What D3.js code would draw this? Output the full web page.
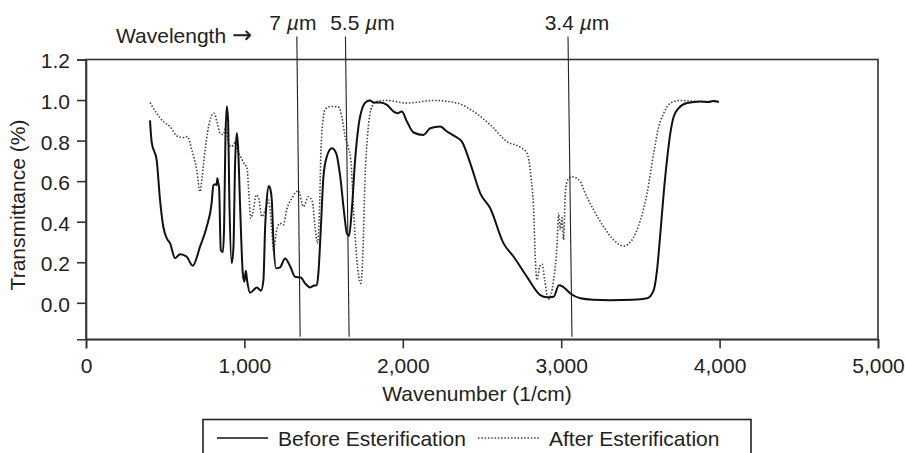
<!DOCTYPE html>
<html><head><meta charset="utf-8">
<script src="https://cdn.jsdelivr.net/npm/d3@7"></script>
<style>
body{margin:0;background:#fff;}
text{font-family:"Liberation Sans",Arial,Helvetica,sans-serif;fill:#222;}
</style></head>
<body><svg id="c" width="905" height="453"></svg>
<script>
// ---- data ----
const xTicks = [0, 1000, 2000, 3000, 4000, 5000];
const yTicks = [0.0, 0.2, 0.4, 0.6, 0.8, 1.0, 1.2];
const seriesNames = ["Before Esterification", "After Esterification"];
const before = [[404,0.90],[415,0.79],[446,0.705],[467,0.51],[488,0.375],[510,0.318],[531,0.293],[562,0.22],[594,0.24],[636,0.227],[674,0.183],[720,0.277],[762,0.375],[793,0.49],[804,0.58],[818,0.585],[825,0.58],[829,0.614],[835,0.59],[840,0.57],[851,0.26],[864,0.25],[872,0.375],[880,0.80],[889,0.97],[897,0.90],[905,0.51],[920,0.195],[931,0.277],[941,0.68],[952,0.837],[960,0.77],[973,0.474],[990,0.145],[1000,0.104],[1009,0.158],[1017,0.11],[1036,0.05],[1057,0.062],[1078,0.076],[1105,0.06],[1120,0.112],[1131,0.375],[1141,0.507],[1154,0.576],[1164,0.56],[1173,0.507],[1183,0.31],[1200,0.17],[1225,0.175],[1257,0.218],[1289,0.18],[1320,0.128],[1356,0.125],[1383,0.096],[1415,0.076],[1440,0.085],[1457,0.087],[1467,0.145],[1483,0.375],[1499,0.622],[1520,0.72],[1552,0.762],[1579,0.738],[1605,0.622],[1630,0.441],[1647,0.343],[1661,0.33],[1678,0.458],[1699,0.705],[1720,0.869],[1748,0.968],[1773,0.993],[1794,0.998],[1815,0.988],[1857,0.988],[1900,0.976],[1942,0.943],[1966,0.935],[1994,0.943],[2026,0.894],[2068,0.84],[2131,0.828],[2173,0.861],[2236,0.869],[2279,0.845],[2342,0.815],[2373,0.795],[2426,0.688],[2489,0.54],[2552,0.466],[2636,0.293],[2700,0.227],[2784,0.128],[2868,0.038],[2910,0.027],[2952,0.03],[2986,0.087],[3010,0.08],[3058,0.046],[3121,0.022],[3200,0.015],[3310,0.013],[3450,0.015],[3542,0.022],[3584,0.063],[3605,0.161],[3626,0.343],[3647,0.54],[3668,0.705],[3689,0.837],[3710,0.918],[3742,0.96],[3795,0.985],[3879,0.993],[3930,0.99],[3960,0.995],[3995,0.99]];
const after = [[404,0.988],[446,0.935],[488,0.894],[531,0.869],[573,0.823],[615,0.815],[640,0.82],[668,0.754],[699,0.655],[720,0.548],[733,0.62],[752,0.754],[783,0.902],[808,0.935],[829,0.886],[846,0.837],[867,0.83],[884,0.87],[899,0.787],[920,0.77],[941,0.79],[956,0.754],[977,0.72],[1004,0.68],[1015,0.672],[1032,0.49],[1040,0.417],[1057,0.458],[1074,0.532],[1089,0.52],[1110,0.425],[1131,0.458],[1152,0.507],[1173,0.359],[1183,0.26],[1204,0.359],[1225,0.392],[1246,0.384],[1267,0.46],[1299,0.515],[1341,0.552],[1373,0.474],[1404,0.523],[1429,0.499],[1446,0.375],[1461,0.293],[1474,0.458],[1485,0.787],[1510,0.955],[1541,0.968],[1594,0.965],[1615,0.918],[1636,0.82],[1657,0.762],[1672,0.705],[1689,0.458],[1710,0.211],[1735,0.096],[1748,0.244],[1762,0.622],[1777,0.82],[1805,0.968],[1836,0.993],[1900,0.998],[2026,0.985],[2194,0.998],[2342,0.985],[2447,0.943],[2552,0.878],[2658,0.795],[2742,0.767],[2784,0.738],[2809,0.622],[2826,0.458],[2837,0.211],[2847,0.112],[2864,0.178],[2879,0.191],[2896,0.112],[2917,0.017],[2935,0.04],[2952,0.112],[2973,0.277],[2984,0.441],[2994,0.36],[3005,0.42],[3015,0.31],[3026,0.54],[3041,0.606],[3068,0.622],[3121,0.598],[3142,0.557],[3205,0.458],[3268,0.375],[3331,0.31],[3394,0.28],[3447,0.31],[3500,0.408],[3542,0.54],[3584,0.738],[3616,0.869],[3647,0.935],[3689,0.985],[3752,0.998],[3879,0.993],[4000,0.993]];
// wavelength marker lines: label number, wavenumber at top and at bottom (lines are slightly slanted)
const markerLabels = ["7", "5.5", "3.4"];
const markerTop = [1331, 1638, 3043];
const markerBottom = [1352, 1661, 3068];

// ---- layout ----
const svg = d3.select("#c");
const L = 86, R = 878, T = 59.5, B = 339.3;
const x = d3.scaleLinear().domain([0, 5000]).range([L, R]);
const y = d3.scaleLinear().domain([-0.18, 1.2]).range([B, T]);
const FS = 21;
const axisCol = "#333";

// frame
svg.append("rect").attr("x", L).attr("y", T).attr("width", R - L).attr("height", B - T)
  .attr("fill", "none").attr("stroke", axisCol).attr("stroke-width", 1.6);

// x axis
const xa = svg.append("g").attr("transform", `translate(0,${B})`)
  .call(d3.axisBottom(x).tickValues(xTicks).tickSize(9).tickPadding(10).tickFormat(d3.format(",")));
xa.select(".domain").attr("stroke", axisCol).attr("stroke-width", 1.6);
xa.selectAll(".tick line").attr("stroke", axisCol).attr("stroke-width", 1.6);
xa.selectAll("text").attr("font-size", FS).attr("fill", "#222");

// y axis
const ya = svg.append("g").attr("transform", `translate(${L},0)`)
  .call(d3.axisLeft(y).tickValues(yTicks).tickSize(9).tickPadding(7).tickFormat(d3.format(".1f")));
ya.select(".domain").attr("stroke", axisCol).attr("stroke-width", 1.6);
ya.selectAll(".tick line").attr("stroke", axisCol).attr("stroke-width", 1.6);
ya.selectAll("text").attr("font-size", FS).attr("dy", "0.4em").attr("fill", "#222");
svg.selectAll(".tick text").attr("font-family", null);
xa.attr("font-family", null); ya.attr("font-family", null);

// axis titles
svg.append("text").attr("x", 477).attr("y", 401).attr("text-anchor", "middle")
  .attr("font-size", FS).text("Wavenumber (1/cm)");
svg.append("text").attr("transform", "translate(25,205) rotate(-90)").attr("text-anchor", "middle")
  .attr("font-size", FS).text("Transmittance (%)");

// curves
const line = d3.line().x(d => x(d[0])).y(d => y(d[1])).curve(d3.curveMonotoneX);
svg.append("path").datum(after).attr("d", line).attr("fill", "none")
  .attr("stroke", "#444").attr("stroke-width", 1.6).attr("stroke-dasharray", "1.5,1.8");
svg.append("path").datum(before).attr("d", line).attr("fill", "none")
  .attr("stroke", "#111").attr("stroke-width", 2);

// wavelength markers
const topV = 1.314, botV = -0.168;
const labelShift = [-4, 17, 9];
markerLabels.forEach((lab, i) => {
  svg.append("line").attr("x1", x(markerTop[i])).attr("y1", y(topV))
    .attr("x2", x(markerBottom[i])).attr("y2", y(botV))
    .attr("stroke", "#222").attr("stroke-width", 1.1);
  const t = svg.append("text").attr("x", x(markerTop[i]) + labelShift[i]).attr("y", 30)
    .attr("text-anchor", "middle").attr("font-size", FS);
  t.append("tspan").text(lab + " ");
  t.append("tspan").attr("font-style", "italic").text("\u00b5");
  t.append("tspan").text("m");
});
const wl = svg.append("text").attr("x", 116).attr("y", 43).attr("font-size", FS);
wl.append("tspan").text("Wavelength ");
wl.append("tspan").attr("font-family", "DejaVu Sans").attr("font-size", 24).text("\u2192");

// legend
svg.append("rect").attr("x", 203).attr("y", 419.5).attr("width", 548).attr("height", 60)
  .attr("fill", "none").attr("stroke", "#222").attr("stroke-width", 1.6);
svg.append("line").attr("x1", 217).attr("x2", 268).attr("y1", 438).attr("y2", 438)
  .attr("stroke", "#111").attr("stroke-width", 1.5);
svg.append("text").attr("x", 278).attr("y", 446).attr("font-size", FS).text(seriesNames[0]);
svg.append("line").attr("x1", 478).attr("x2", 540).attr("y1", 438).attr("y2", 438)
  .attr("stroke", "#444").attr("stroke-width", 1.4).attr("stroke-dasharray", "1.5,1.8");
svg.append("text").attr("x", 549).attr("y", 446).attr("font-size", FS).text(seriesNames[1]);
</script></body></html>
